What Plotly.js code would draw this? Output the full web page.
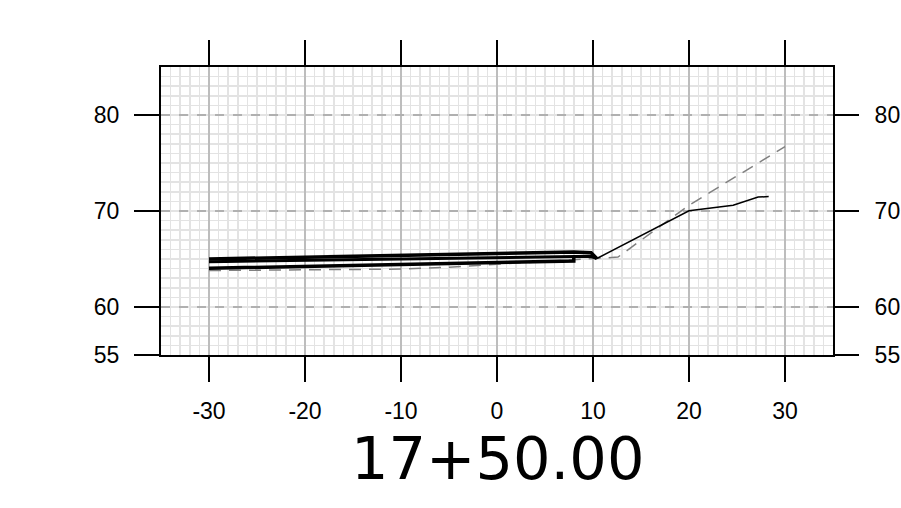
<!DOCTYPE html>
<html><head><meta charset="utf-8">
<script src="https://cdn.plot.ly/plotly-3.0.1.min.js"></script>
<style>html,body{margin:0;padding:0;background:#fff}</style>
</head><body><div id="plot" style="width:901px;height:508px"></div>
<script>
// Finished grade (top surface)
const gradeTopX = [-30, -16, 0, 8, 9.8, 10.4];
const gradeTopY = [65.0, 65.27, 65.5, 65.72, 65.65, 65.05];
// Pavement bottom
const gradeBotX = [-30, -16, 0, 8, 9.8, 10.4];
const gradeBotY = [64.72, 64.92, 65.1, 65.28, 65.28, 65.05];
// Subgrade
const subX = [-30, 8, 8];
const subY = [64.03, 64.8, 65.25];
// Cut/fill slope
const slopeX = [10.4, 20, 24.6, 27.2, 28.3];
const slopeY = [65.05, 70.03, 70.6, 71.45, 71.5];
// Existing ground
const egX = [-30, -20, -10, -5, 0, 10, 12.6, 20, 30];
const egY = [63.8, 63.85, 63.95, 64.15, 64.45, 65.1, 65.2, 70.6, 76.7];
const xTicks = [-30, -20, -10, 0, 10, 20, 30];
const yTicks = [55, 60, 70, 80];
const stationLabel = "17+50.00";

const traces = [
  {x: egX, y: egY, mode: 'lines', line: {color: '#808080', width: 1.5, dash: '12px,8px'}, hoverinfo: 'skip'},
  {x: subX, y: subY, mode: 'lines', line: {color: '#000', width: 3.5}, hoverinfo: 'skip'},
  {x: gradeBotX, y: gradeBotY, mode: 'lines', line: {color: '#000', width: 3}, hoverinfo: 'skip'},
  {x: gradeTopX, y: gradeTopY, mode: 'lines', line: {color: '#000', width: 3.5}, hoverinfo: 'skip'},
  {x: slopeX, y: slopeY, mode: 'lines', line: {color: '#000', width: 1.5}, hoverinfo: 'skip'},
  {x: [0], y: [70], yaxis: 'y2', mode: 'markers', marker: {opacity: 0}, hoverinfo: 'skip'}
];

const tickFont = {family: 'Liberation Sans, Arial, sans-serif', size: 23, color: '#000'};
const minorGrid = {tickmode: 'linear', tick0: 0, dtick: 1, showgrid: true, gridcolor: '#e3e3e3', gridwidth: 1.5, griddash: 'solid', ticks: ''};
const layout = {
  width: 901, height: 508,
  margin: {l: 161, r: 68, t: 67, b: 153},
  paper_bgcolor: '#fff', plot_bgcolor: '#fff',
  showlegend: false,
  xaxis: {
    range: [-35, 35], tickmode: 'array', tickvals: xTicks, ticktext: xTicks.map(String),
    ticks: 'outside', ticklen: 25, tickwidth: 2, tickcolor: '#000',
    showline: true, linecolor: '#000', linewidth: 2, mirror: 'allticks',
    showgrid: true, gridcolor: '#bdbdbd', gridwidth: 1.2,
    zeroline: false, tickfont: tickFont, ticklabelstandoff: 9,
    minor: minorGrid
  },
  yaxis: {
    range: [55, 85], tickmode: 'array', tickvals: yTicks, ticktext: yTicks.map(String),
    ticks: 'outside', ticklen: 25, tickwidth: 2, tickcolor: '#000',
    showline: true, linecolor: '#000', linewidth: 2, mirror: true,
    showgrid: true, gridcolor: '#b0b0b0', gridwidth: 1.2, griddash: 'dash',
    zeroline: false, tickfont: tickFont, ticklabelstandoff: 10,
    minor: minorGrid
  },
  yaxis2: {
    range: [55, 85], overlaying: 'y', side: 'right', tickmode: 'array', tickvals: yTicks, ticktext: yTicks.map(String),
    ticks: 'outside', ticklen: 25, tickwidth: 2, tickcolor: '#000',
    showline: false, showgrid: false, zeroline: false, tickfont: tickFont, ticklabelstandoff: 11
  },
  annotations: [{
    text: stationLabel, xref: 'paper', yref: 'paper', x: 0.5, y: -0.358, yanchor: 'middle', xanchor: 'center',
    showarrow: false, font: {family: 'DejaVu Sans, sans-serif', size: 59, color: '#000'}
  }]
};
Plotly.newPlot('plot', traces, layout, {displayModeBar: false, staticPlot: true});
</script></body></html>
